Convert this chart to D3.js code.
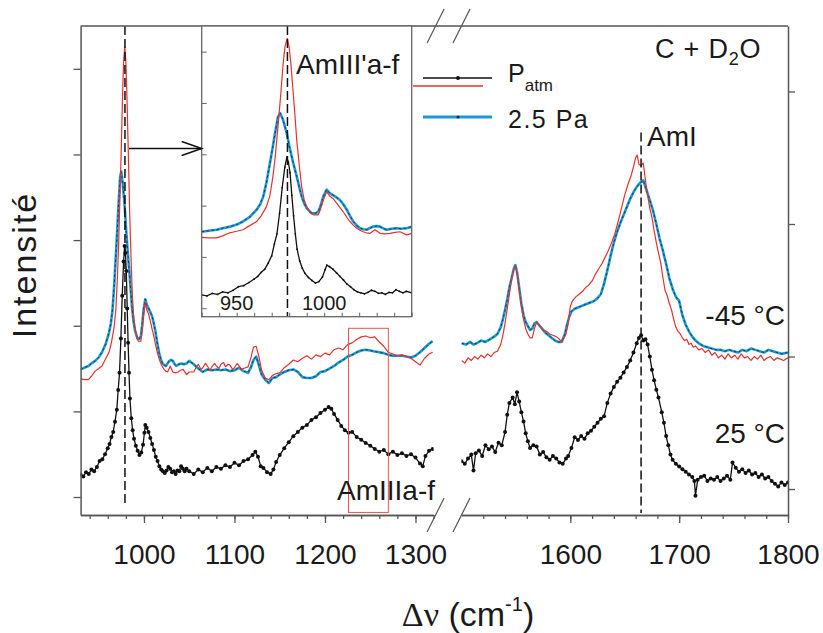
<!DOCTYPE html>
<html>
<head>
<meta charset="utf-8">
<script src="https://cdn.jsdelivr.net/npm/d3@7"></script>
<style>
  html, body { margin: 0; padding: 0; background: #fff; }
  svg text { font-family: "Liberation Sans", Arial, sans-serif; fill: #1a1a1a; }
</style>
</head>
<body>
<svg id="chart" width="823" height="633"></svg>
<script>
// Raman spectra of C + D2O: 25 °C at Patm, -45 °C at Patm and at 2.5 Pa.
// Each series is [wavenumber (cm-1), intensity (a.u.)].

// ---- 930–1320 cm-1 window ----
const black25Left = [
  [930,0.26],[933,0.24],[936,0.29],[939,0.27],[942,0.32],[945,0.30],[948,0.35],[951,0.42],[954,0.44],[957,0.50],
  [960,0.57],[962,0.62],[964,0.70],[966,0.76],[968,0.88],[970,1.02],[971.5,1.25],[973,1.45],[974.5,1.85],[976,2.35],
  [977.5,2.75],[978.6,2.93],[979.5,2.85],[980.5,2.64],[981.5,2.20],[982.5,1.80],[983.5,1.45],[984.5,1.15],[986,0.92],
  [987.5,0.78],[989,0.68],[991,0.60],[993,0.54],[995,0.49],[997,0.52],[999,0.61],[1000.5,0.75],[1001.5,0.84],[1003,0.81],
  [1005,0.76],[1007,0.69],[1009,0.62],[1011,0.55],[1013,0.47],[1015,0.42],[1017,0.36],[1019,0.32],[1021,0.30],[1023,0.28],
  [1025,0.31],[1027,0.35],[1029,0.33],[1031,0.29],[1033,0.30],[1035,0.27],[1037,0.31],[1039,0.30],[1041,0.36],[1043,0.33],
  [1045,0.30],[1047,0.33],[1050,0.30],[1055,0.27],[1060,0.32],[1065,0.29],[1070,0.34],[1075,0.30],[1080,0.35],[1085,0.33],
  [1090,0.37],[1095,0.35],[1100,0.40],[1105,0.37],[1110,0.42],[1115,0.44],[1120,0.49],[1123,0.53],[1126,0.47],[1129,0.36],
  [1132,0.34],[1136,0.29],[1140,0.27],[1143,0.32],[1146,0.41],[1150,0.49],[1155,0.57],[1160,0.64],[1165,0.71],[1170,0.76],
  [1175,0.81],[1180,0.84],[1185,0.90],[1190,0.93],[1195,0.98],[1200,1.02],[1204,1.05],[1207,1.03],[1210,0.97],[1214,0.90],
  [1218,0.83],[1222,0.78],[1226,0.75],[1230,0.76],[1235,0.70],[1240,0.67],[1245,0.63],[1250,0.60],[1255,0.56],[1260,0.53],
  [1265,0.55],[1270,0.50],[1275,0.53],[1280,0.49],[1285,0.51],[1290,0.48],[1295,0.50],[1300,0.46],[1305,0.39],[1308,0.36],
  [1311,0.48],[1315,0.54],[1319,0.56]
];
const red45Left = [
  [930,1.38],[934,1.37],[938.6,1.37],[942,1.41],[946,1.47],[950,1.50],[953.6,1.53],[957,1.60],[961.4,1.69],[964,1.80],
  [967,1.98],[969,2.20],[970.7,2.57],[972,2.95],[973.6,3.54],[975,4.10],[976.5,4.75],[977.6,5.10],[978.9,5.26],[980,5.08],
  [981,4.75],[982.3,4.20],[983.3,3.75],[984.3,3.28],[985.7,2.80],[987.1,2.37],[988.5,2.12],[990,1.98],[992,1.86],[993.8,1.82],
  [996.6,1.82],[998,1.94],[999.5,2.11],[1001.4,2.27],[1003.3,2.18],[1005,2.14],[1007.1,2.05],[1009,1.96],[1010.9,1.88],
  [1012.8,1.78],[1014.7,1.69],[1016.6,1.62],[1018.6,1.56],[1020.5,1.52],[1022.3,1.49],[1024,1.47],[1026.2,1.46],[1029,1.53],
  [1031.9,1.46],[1034.5,1.45],[1037.6,1.46],[1040.5,1.48],[1043.3,1.49],[1047.1,1.43],[1050,1.46],[1055,1.46],[1058,1.52],
  [1060,1.55],[1063,1.49],[1065,1.51],[1068,1.56],[1070,1.53],[1073,1.48],[1075,1.52],[1078,1.56],[1080,1.53],[1083,1.50],
  [1085,1.55],[1088,1.57],[1090,1.52],[1093,1.55],[1095,1.54],[1098,1.49],[1100,1.51],[1103,1.56],[1105,1.53],[1108,1.49],
  [1110,1.50],[1115,1.52],[1118,1.62],[1121,1.75],[1124,1.76],[1127,1.64],[1130,1.48],[1134,1.39],[1138,1.37],[1142,1.42],
  [1146,1.44],[1150,1.45],[1155,1.51],[1160,1.55],[1165,1.60],[1170,1.58],[1175,1.62],[1180,1.65],[1185,1.61],[1190,1.66],
  [1195,1.64],[1200,1.68],[1205,1.66],[1210,1.72],[1215,1.74],[1220,1.72],[1225,1.78],[1230,1.80],[1235,1.84],[1240,1.87],
  [1245,1.88],[1250,1.86],[1255,1.87],[1260,1.81],[1265,1.76],[1270,1.69],[1275,1.67],[1280,1.65],[1285,1.66],[1290,1.64],
  [1295,1.62],[1300,1.58],[1305,1.54],[1310,1.62],[1315,1.67],[1319,1.69]
];
const blue45Left = [
  [930,1.49],[934,1.51],[938.6,1.53],[942,1.56],[946.2,1.59],[950,1.63],[953.6,1.69],[957.5,1.78],[961.4,1.92],[963.5,2.03],
  [965.2,2.18],[967,2.45],[969,2.83],[970.5,3.12],[971.9,3.41],[973.6,3.73],[974.9,3.80],[976.5,3.67],[978.6,3.41],[980.5,3.09],
  [982.3,2.83],[984.3,2.57],[985.7,2.37],[987.1,2.18],[988.5,2.05],[990,1.95],[992.9,1.85],[995,1.85],[996.6,1.88],[998,2.00],
  [999.5,2.18],[1001.4,2.31],[1003.3,2.24],[1005.2,2.20],[1007,2.16],[1009,2.11],[1011,2.02],[1012.9,1.92],[1014.7,1.80],
  [1016.6,1.69],[1018.6,1.61],[1020.5,1.56],[1022.4,1.54],[1024.3,1.53],[1026,1.56],[1028,1.59],[1030,1.60],[1031.9,1.59],
  [1034,1.55],[1035.7,1.53],[1038.5,1.55],[1041.4,1.56],[1044,1.55],[1047.1,1.56],[1050,1.59],[1055,1.55],[1060,1.50],
  [1065,1.46],[1070,1.49],[1075,1.48],[1080,1.49],[1085,1.48],[1090,1.49],[1095,1.47],[1100,1.48],[1105,1.51],[1110,1.47],
  [1115,1.45],[1118,1.51],[1121,1.60],[1124,1.64],[1127,1.54],[1130,1.43],[1134,1.37],[1138,1.33],[1142,1.39],[1146,1.40],
  [1150,1.43],[1155,1.46],[1160,1.48],[1165,1.49],[1170,1.46],[1175,1.40],[1180,1.39],[1185,1.39],[1190,1.41],[1195,1.46],
  [1200,1.47],[1205,1.50],[1210,1.53],[1215,1.57],[1220,1.60],[1225,1.64],[1230,1.66],[1235,1.69],[1240,1.71],[1245,1.72],
  [1250,1.71],[1255,1.70],[1260,1.69],[1265,1.68],[1270,1.66],[1275,1.65],[1280,1.65],[1285,1.65],[1290,1.64],[1295,1.63],
  [1300,1.65],[1305,1.69],[1310,1.74],[1315,1.79],[1319,1.82]
];

// ---- 1500–1800 cm-1 window ----
const black25Right = [
  [1500,0.21],[1503,0.19],[1506,0.23],[1509,0.26],[1511,0.14],[1513,0.27],[1516,0.29],[1519,0.25],[1522,0.33],[1525,0.30],
  [1528,0.32],[1531,0.28],[1534,0.35],[1537,0.33],[1540,0.43],[1542,0.56],[1544,0.65],[1547,0.69],[1549,0.64],[1551,0.73],
  [1553,0.66],[1555,0.58],[1557,0.51],[1559,0.42],[1561,0.36],[1563,0.31],[1566,0.33],[1569,0.32],[1572,0.26],[1575,0.28],
  [1578,0.24],[1581,0.22],[1584,0.25],[1587,0.23],[1590,0.20],[1593,0.19],[1596,0.23],[1598,0.25],[1601,0.31],[1604,0.39],
  [1607,0.37],[1610,0.40],[1613,0.38],[1616,0.42],[1619,0.44],[1622,0.47],[1625,0.50],[1628,0.53],[1631,0.55],[1634,0.65],
  [1637,0.72],[1640,0.77],[1643,0.81],[1646,0.84],[1649,0.88],[1652,0.92],[1655,0.97],[1658,1.03],[1661,1.10],[1663,1.14],
  [1665,1.16],[1667,1.12],[1669,1.13],[1671,1.09],[1673,1.00],[1675,0.90],[1677,0.82],[1679,0.75],[1681,0.69],[1684,0.58],
  [1686,0.50],[1688,0.40],[1690,0.33],[1692,0.26],[1694,0.22],[1697,0.19],[1700,0.17],[1703,0.15],[1706,0.13],[1709,0.11],
  [1712,0.09],[1714,0.06],[1715,-0.05],[1717,0.07],[1720,0.09],[1723,0.10],[1726,0.06],[1729,0.08],[1732,0.07],[1735,0.09],
  [1738,0.06],[1741,0.08],[1744,0.10],[1747,0.07],[1749,0.20],[1752,0.16],[1755,0.13],[1758,0.15],[1761,0.12],[1764,0.14],
  [1767,0.11],[1770,0.12],[1773,0.09],[1776,0.11],[1779,0.08],[1782,0.09],[1785,0.06],[1788,0.04],[1791,0.02],[1794,0.05],
  [1797,0.03],[1800,0.05]
];
const red45Right = [
  [1500,0.97],[1503,0.95],[1506,0.99],[1509,0.97],[1512,1.00],[1515,0.98],[1518,1.01],[1521,0.99],[1524,1.02],[1527,1.00],
  [1530,1.03],[1533,1.04],[1536,1.09],[1538,1.16],[1540,1.25],[1542,1.36],[1544,1.47],[1546,1.58],[1548,1.66],[1549.5,1.68],
  [1551,1.64],[1553,1.50],[1555,1.38],[1557,1.28],[1559,1.21],[1561,1.17],[1563,1.14],[1565,1.14],[1567,1.21],[1569,1.26],
  [1571,1.24],[1573,1.22],[1575,1.20],[1578,1.19],[1581,1.17],[1584,1.16],[1587,1.15],[1590,1.13],[1592,1.11],[1594,1.14],
  [1596,1.17],[1598,1.25],[1600,1.38],[1602,1.42],[1605,1.45],[1608,1.47],[1611,1.49],[1614,1.52],[1617,1.54],[1620,1.57],
  [1623,1.62],[1626,1.66],[1629,1.70],[1632,1.75],[1635,1.80],[1638,1.86],[1641,1.93],[1644,2.02],[1647,2.12],[1650,2.22],
  [1653,2.30],[1656,2.37],[1658,2.43],[1660,2.50],[1661.5,2.52],[1663,2.45],[1665,2.44],[1667,2.46],[1669,2.33],[1671,2.22],
  [1673,2.12],[1675,2.05],[1677,1.95],[1679,1.86],[1681,1.78],[1683,1.71],[1685,1.60],[1687,1.50],[1689,1.46],[1691,1.40],
  [1693,1.35],[1695,1.28],[1697,1.22],[1699,1.19],[1701,1.17],[1703,1.14],[1705,1.12],[1707,1.13],[1709,1.09],[1711,1.10],
  [1713,1.07],[1715,1.08],[1718,1.05],[1721,1.06],[1724,1.03],[1727,1.05],[1730,1.01],[1733,1.03],[1736,0.99],[1739,1.01],
  [1742,0.98],[1745,1.02],[1748,0.99],[1751,1.01],[1754,0.98],[1757,1.02],[1760,0.99],[1763,1.00],[1766,0.97],[1769,1.00],
  [1772,0.98],[1775,1.01],[1778,0.97],[1781,0.99],[1784,1.00],[1787,0.97],[1790,0.99],[1793,0.98],[1796,0.97],[1800,0.99]
];
const blue45Right = [
  [1500,1.10],[1504,1.09],[1508,1.11],[1511,1.09],[1514,1.10],[1518,1.12],[1522,1.11],[1526,1.13],[1530,1.15],[1533,1.17],
  [1536,1.22],[1538,1.28],[1540,1.35],[1542,1.43],[1544,1.52],[1546,1.59],[1548,1.66],[1549.5,1.69],[1551,1.64],[1553,1.52],
  [1555,1.40],[1557,1.31],[1559,1.26],[1561,1.23],[1563,1.20],[1565,1.21],[1567,1.25],[1569,1.26],[1571,1.24],[1574,1.21],
  [1577,1.18],[1580,1.16],[1583,1.14],[1586,1.12],[1589,1.11],[1592,1.11],[1595,1.17],[1597,1.24],[1599,1.30],[1601,1.34],
  [1604,1.36],[1607,1.37],[1610,1.38],[1613,1.39],[1616,1.40],[1619,1.41],[1622,1.42],[1625,1.44],[1628,1.47],[1631,1.55],
  [1634,1.65],[1637,1.76],[1640,1.86],[1643,1.94],[1646,2.01],[1649,2.07],[1652,2.13],[1655,2.19],[1658,2.24],[1661,2.28],
  [1664,2.31],[1667,2.33],[1669,2.28],[1671,2.23],[1673,2.18],[1676,2.10],[1679,2.00],[1682,1.89],[1685,1.80],[1688,1.70],
  [1691,1.59],[1694,1.51],[1697,1.45],[1700,1.42],[1703,1.31],[1706,1.24],[1709,1.19],[1712,1.15],[1715,1.12],[1718,1.10],
  [1722,1.08],[1726,1.07],[1730,1.06],[1734,1.05],[1738,1.05],[1742,1.04],[1746,1.05],[1750,1.04],[1754,1.03],[1758,1.05],
  [1762,1.04],[1766,1.06],[1770,1.05],[1774,1.04],[1778,1.03],[1782,1.05],[1786,1.04],[1790,1.03],[1794,1.02],[1800,1.03]
];

// ticks, labels and marked bands
const leftMinorTicks  = d3.range(940, 1321, 20);
const leftMajorTicks  = [1000, 1100, 1200, 1300];
const rightMinorTicks = d3.range(1520, 1801, 20);
const rightMajorTicks = [1600, 1700, 1800];
const insetMinorTicks = d3.range(930, 1051, 10);
const insetMajorTicks = [950, 1000];
const leftYTicks  = [0, 1, 2, 3, 4, 5];
const rightYTicks = [0, 1, 2, 3];
const amIIIPrime = 979;          // AmIII'a-f band position
const amI = 1665;                // AmI band position
const amIIIBandX = [1226, 1270]; // AmIIIa-f highlighted band
const amIIIBandY = [-0.18, 1.97];

// ---- layout ----
const frame = { left: 80.6, right: 788, top: 26, bottom: 515 };
const xL = d3.scaleLinear().domain([930, 1320]).range([frame.left, 433.6]);
const xR = d3.scaleLinear().domain([1500, 1800]).range([461.5, frame.right]);
const yL = d3.scaleLinear().domain([-0.21, 5.5]).range([frame.bottom, frame.top]);
const yR = d3.scaleLinear().domain([-0.196, 3.494]).range([frame.bottom, frame.top]);
const box = { left: 201.7, right: 411.7, top: 26, bottom: 316.7 };
const xI = d3.scaleLinear().domain([930, 1050]).range([box.left, box.right]);
const yI = d3.scaleLinear().domain([-0.165, 5.5]).range([box.bottom, box.top]);

const C = { red: "#e8312a", blue: "#1b9ad6", black: "#111", axis: "#555" };

const svg = d3.select("#chart");
const defs = svg.append("defs");
function clip(id, x0, x1, y0, y1) {
  defs.append("clipPath").attr("id", id).append("rect")
    .attr("x", x0).attr("y", y0).attr("width", x1 - x0).attr("height", y1 - y0);
}
clip("clipL", xL.range()[0], xL.range()[1], frame.top, frame.bottom);
clip("clipR", xR.range()[0], xR.range()[1], frame.top, frame.bottom);
clip("clipI", box.left, box.right, box.top, box.bottom);

function lineGen(x, y) { return d3.line().x(d => x(d[0])).y(d => y(d[1])); }

function drawPanel(g, x, y, blackData, redData, blueData, dotR) {
  const line = lineGen(x, y);
  // 2.5 Pa, -45 °C : blue with a dark trace running along it
  g.append("path").datum(blueData).attr("d", line)
    .attr("fill", "none").attr("stroke", C.blue).attr("stroke-width", 2.6).attr("stroke-linejoin", "round");
  g.append("path").datum(blueData).attr("d", line)
    .attr("fill", "none").attr("stroke", "#14303f").attr("stroke-width", 0.9).attr("stroke-dasharray", "2.5,2.5");
  // Patm, -45 °C
  g.append("path").datum(redData).attr("d", line)
    .attr("fill", "none").attr("stroke", C.red).attr("stroke-width", 1.2).attr("stroke-linejoin", "round");
  // Patm, 25 °C : line with dots
  g.append("path").datum(blackData).attr("d", line)
    .attr("fill", "none").attr("stroke", C.black).attr("stroke-width", 1.3);
  g.selectAll("circle.pt").data(blackData).join("circle").attr("class", "pt")
    .attr("cx", d => x(d[0])).attr("cy", d => y(d[1])).attr("r", dotR).attr("fill", C.black);
}

const gL = svg.append("g").attr("clip-path", "url(#clipL)");
drawPanel(gL, xL, yL, black25Left, red45Left, blue45Left, 2);
const gR = svg.append("g").attr("clip-path", "url(#clipR)");
drawPanel(gR, xR, yR, black25Right, red45Right, blue45Right, 2);

// highlighted AmIIIa-f band
svg.append("rect")
  .attr("x", xL(amIIIBandX[0])).attr("y", yL(amIIIBandY[1]))
  .attr("width", xL(amIIIBandX[1]) - xL(amIIIBandX[0]))
  .attr("height", yL(amIIIBandY[0]) - yL(amIIIBandY[1]))
  .attr("fill", "none").attr("stroke", "#e8554f").attr("stroke-width", 1);

// band markers
const dash = "9,4";
svg.append("line").attr("x1", xL(amIIIPrime)).attr("x2", xL(amIIIPrime))
  .attr("y1", yL(5.5)).attr("y2", yL(-0.09))
  .attr("stroke", C.black).attr("stroke-width", 1.5).attr("stroke-dasharray", dash);
svg.append("line").attr("x1", xR(amI)).attr("x2", xR(amI))
  .attr("y1", yR(2.69)).attr("y2", yR(-0.18))
  .attr("stroke", C.black).attr("stroke-width", 1.5).attr("stroke-dasharray", dash);

// ---- axes ----
function styleAxis(g) {
  g.select(".domain").attr("stroke", C.axis).attr("stroke-width", 1.5);
  g.selectAll(".tick line").attr("stroke", C.axis).attr("stroke-width", 1.3);
}
function bottomAxis(x, minor, major) {
  const gMinor = svg.append("g").attr("transform", `translate(0,${frame.bottom})`)
    .call(d3.axisBottom(x).tickValues(minor).tickSize(4).tickSizeOuter(0).tickFormat(""));
  styleAxis(gMinor);
  const gMajor = svg.append("g").attr("transform", `translate(0,${frame.bottom})`)
    .call(d3.axisBottom(x).tickValues(major).tickSize(8).tickSizeOuter(0).tickPadding(21).tickFormat(d3.format("d")));
  styleAxis(gMajor);
  gMajor.selectAll("text").attr("font-size", 28).attr("font-family", null).attr("fill", "#1a1a1a");
}
bottomAxis(xL, leftMinorTicks, leftMajorTicks);
bottomAxis(xR, rightMinorTicks, rightMajorTicks);

const gYL = svg.append("g").attr("transform", `translate(${frame.left},0)`)
  .call(d3.axisLeft(yL).tickValues(leftYTicks).tickSize(7).tickSizeOuter(0).tickFormat(""));
styleAxis(gYL);
const gYR = svg.append("g").attr("transform", `translate(${frame.right},0)`)
  .call(d3.axisRight(yR).tickValues(rightYTicks).tickSize(7).tickSizeOuter(0).tickFormat(""));
styleAxis(gYR);
svg.append("line").attr("x1", frame.left).attr("x2", frame.right)
  .attr("y1", frame.top).attr("y2", frame.top).attr("stroke", C.axis).attr("stroke-width", 1.5);

// axis break marks
function breakMark(cx, cy) {
  svg.append("line").attr("x1", cx - 8.5).attr("y1", cy + 17).attr("x2", cx + 8.5).attr("y2", cy - 17)
    .attr("stroke", C.axis).attr("stroke-width", 1.2);
}
[xL.range()[1] + 2, xR.range()[0]].forEach(cx => { breakMark(cx, frame.bottom); breakMark(cx, frame.top); });

// ---- inset: 930–1050 cm-1 close-up ----
svg.append("rect").attr("x", box.left).attr("y", box.top)
  .attr("width", box.right - box.left).attr("height", box.bottom - box.top).attr("fill", "#fff");
const gI = svg.append("g").attr("clip-path", "url(#clipI)");
drawPanel(gI, xI, yI, black25Left, red45Left, blue45Left, 0.9);
svg.append("line").attr("x1", xI(amIIIPrime)).attr("x2", xI(amIIIPrime))
  .attr("y1", box.top).attr("y2", box.bottom)
  .attr("stroke", C.black).attr("stroke-width", 1.5).attr("stroke-dasharray", dash);
svg.append("rect").attr("x", box.left).attr("y", box.top)
  .attr("width", box.right - box.left).attr("height", box.bottom - box.top)
  .attr("fill", "none").attr("stroke", "#666").attr("stroke-width", 1.3);
const gIY = svg.append("g").attr("transform", `translate(${box.left},0)`)
  .call(d3.axisRight(yI).tickValues(leftYTicks).tickSize(5).tickSizeOuter(0).tickFormat(""));
gIY.select(".domain").remove();
gIY.selectAll(".tick line").attr("stroke", "#666");
const gIX = svg.append("g").attr("transform", `translate(0,${box.bottom})`)
  .call(d3.axisTop(xI).tickValues(insetMinorTicks).tickSize(4).tickSizeOuter(0).tickFormat(""));
gIX.select(".domain").remove();
gIX.selectAll(".tick line").attr("stroke", "#666");
svg.selectAll("text.insetTick").data(insetMajorTicks).join("text").attr("class", "insetTick")
  .attr("x", d => xI(d)).attr("y", box.bottom - 6.5).attr("text-anchor", "middle")
  .attr("font-size", 20).text(d => d);

// arrow from the main peak to the close-up
const ay = yL(4.07);
svg.append("line").attr("x1", xL(983.5)).attr("x2", box.left).attr("y1", ay).attr("y2", ay)
  .attr("stroke", C.black).attr("stroke-width", 1.5);
svg.append("path")
  .attr("d", `M${box.left - 20},${ay - 7}L${box.left},${ay}L${box.left - 20},${ay + 7}`)
  .attr("fill", "none").attr("stroke", C.black).attr("stroke-width", 1.5);

// ---- legend ----
const lg = svg.append("g");
lg.append("line").attr("x1", 423).attr("x2", 492).attr("y1", 78).attr("y2", 78).attr("stroke", C.black).attr("stroke-width", 1.3);
lg.append("circle").attr("cx", 458).attr("cy", 78).attr("r", 2).attr("fill", C.black);
lg.append("line").attr("x1", 413).attr("x2", 483).attr("y1", 86).attr("y2", 86).attr("stroke", C.red).attr("stroke-width", 1.4);
lg.append("line").attr("x1", 423).attr("x2", 492).attr("y1", 117).attr("y2", 117).attr("stroke", C.blue).attr("stroke-width", 3);
lg.append("circle").attr("cx", 458).attr("cy", 117).attr("r", 1.6).attr("fill", "#14303f");
const tP = lg.append("text").attr("x", 508).attr("y", 82).attr("font-size", 25);
tP.append("tspan").text("P");
tP.append("tspan").attr("font-size", 17).attr("dy", 9).text("atm");
lg.append("text").attr("x", 508).attr("y", 128).attr("font-size", 25).attr("letter-spacing", 1.5).text("2.5 Pa");

// ---- annotations ----
const tC = svg.append("text").attr("x", 655).attr("y", 58).attr("font-size", 27).attr("letter-spacing", 0.8);
tC.append("tspan").text("C + D");
tC.append("tspan").attr("font-size", 18).attr("dy", 7).text("2");
tC.append("tspan").attr("dy", -7).text("O");
svg.append("text").attr("x", 647).attr("y", 146).attr("font-size", 28).text("AmI");
svg.append("text").attr("x", 296).attr("y", 74).attr("font-size", 28).text("AmIII'a-f");
svg.append("text").attr("x", 435).attr("y", 500).attr("font-size", 28).attr("text-anchor", "end").text("AmIIIa-f");
svg.append("text").attr("x", 785).attr("y", 325).attr("font-size", 28).attr("text-anchor", "end").text("-45 °C");
svg.append("text").attr("x", 785).attr("y", 443).attr("font-size", 28).attr("text-anchor", "end").text("25 °C");

// axis titles
svg.append("text").attr("transform", "translate(36,265) rotate(-90)")
  .attr("text-anchor", "middle").attr("font-size", 34).attr("letter-spacing", 2).text("Intensité");
const tX = svg.append("text").attr("x", 468).attr("y", 626).attr("text-anchor", "middle").attr("font-size", 34);
tX.append("tspan").attr("font-family", "'Liberation Serif', 'Times New Roman', serif").text("Δν");
tX.append("tspan").text(" (cm");
tX.append("tspan").attr("font-size", 20).attr("dy", -15).text("-1");
tX.append("tspan").attr("dy", 15).text(")");
</script>
</body>
</html>
